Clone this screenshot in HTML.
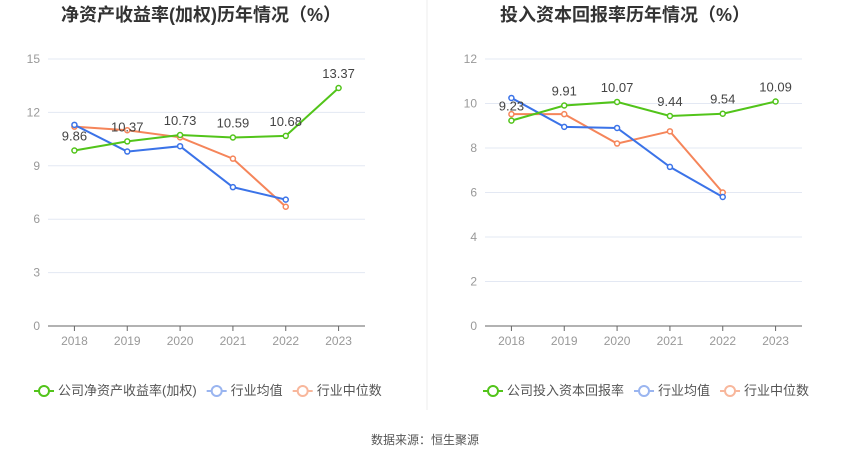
<!DOCTYPE html>
<html><head><meta charset="utf-8"><style>
body{margin:0;background:#fff;font-family:"Liberation Sans","Noto Sans CJK SC",sans-serif;}
svg text{font-family:"Liberation Sans","Noto Sans CJK SC",sans-serif;}
</style></head><body>
<svg id="s" width="850" height="458" xmlns="http://www.w3.org/2000/svg">
<line x1="427" y1="0" x2="427" y2="410" stroke="#eee"/>
<text x="201" y="21" text-anchor="middle" font-size="18" font-weight="bold" fill="#333">净资产收益率(加权)历年情况（%）</text>
<text x="625" y="21" text-anchor="middle" font-size="18" font-weight="bold" fill="#333">投入资本回报率历年情况（%）</text>
<text x="425" y="444" text-anchor="middle" font-size="12" fill="#555">数据来源：恒生聚源</text>
</svg>
<script>
const years=["2018","2019","2020","2021","2022","2023"];
const roeCompany=[9.86,10.37,10.73,10.59,10.68,13.37];
const roeAvg=[11.3,9.8,10.1,7.8,7.1];
const roeMedian=[11.2,11.0,10.6,9.4,6.7];
const roeTicks=[0,3,6,9,12,15];
const roicCompany=[9.23,9.91,10.07,9.44,9.54,10.09];
const roicAvg=[10.25,8.95,8.9,7.15,5.8];
const roicMedian=[9.52,9.52,8.2,8.75,6.0];
const roicTicks=[0,2,4,6,8,10,12];
const legendLeft=["公司净资产收益率(加权)","行业均值","行业中位数"];
const legendRight=["公司投入资本回报率","行业均值","行业中位数"];
const colors=["#52c41a","#3b73e8","#f5855a"];
const legColors=["#52c41a","#9ab5f0","#f8b79c"];
const svg=document.getElementById('s');
const NS="http://www.w3.org/2000/svg";
function mk(t,a,p){const e=document.createElementNS(NS,t);for(const k in a)e.setAttribute(k,a[k]);(p||svg).appendChild(e);return e;}
function chart(pref,x0,x1,ticks,series,legend,legX){
  const yTop=59,yBot=326,max=ticks[ticks.length-1];
  const step=(x1-x0)/years.length;
  const xs=i=>x0+step*(i+0.5);
  const ys=v=>yBot-(v/max)*(yBot-yTop);
  ticks.forEach(t=>{
    if(t>0){const l=mk('line',{x1:x0,x2:x1,y1:ys(t),y2:ys(t),stroke:'#e3e8f3'});
    
    }
    const tx=mk('text',{x:x0-8,y:ys(t)+4,'text-anchor':'end','font-size':12,fill:'#999'});tx.textContent=t;
    
    
  });
  const ax=mk('line',{x1:x0,x2:x1,y1:yBot,y2:yBot,stroke:'#666'});
  
  
  years.forEach((y,i)=>{
    const tk=mk('line',{x1:xs(i),x2:xs(i),y1:yBot,y2:yBot+5,stroke:'#666'});
    
    
    const tx=mk('text',{x:xs(i),y:yBot+19,'text-anchor':'middle','font-size':12,fill:'#999'});tx.textContent=y;
    
    
  });
  [2,1,0].forEach(si=>{
    const d=series[si];
    const pl=mk('polyline',{points:d.map((v,i)=>xs(i)+','+ys(v)).join(' '),fill:'none',stroke:colors[si],'stroke-width':2});
    
    
    d.forEach((v,i)=>{
      const c=mk('circle',{cx:xs(i),cy:ys(v),r:2.5,fill:'#fff',stroke:colors[si],'stroke-width':1.5});
      
      
      if(si===0){const t=mk('text',{x:xs(i),y:ys(v)-10,'text-anchor':'middle','font-size':13,fill:'#444'});t.textContent=v.toFixed(2);
      
      }
    });
  });
  let lx=legX;
  legend.forEach((name,i)=>{
    const g=mk('g',{});
    
    
    mk('line',{x1:lx,x2:lx+20,y1:391,y2:391,stroke:legColors[i],'stroke-width':2},g);
    mk('circle',{cx:lx+10,cy:391,r:5,fill:'#fff',stroke:legColors[i],'stroke-width':2},g);
    const t=mk('text',{x:lx+24,y:395,'font-size':13,fill:'#555'},g);t.textContent=name;
    lx+=24+t.getComputedTextLength()+10;
  });
}
chart('roe',48,365,roeTicks,[roeCompany,roeAvg,roeMedian],legendLeft,34);
chart('roic',485,802,roicTicks,[roicCompany,roicAvg,roicMedian],legendRight,483);
</script>
</body></html>
